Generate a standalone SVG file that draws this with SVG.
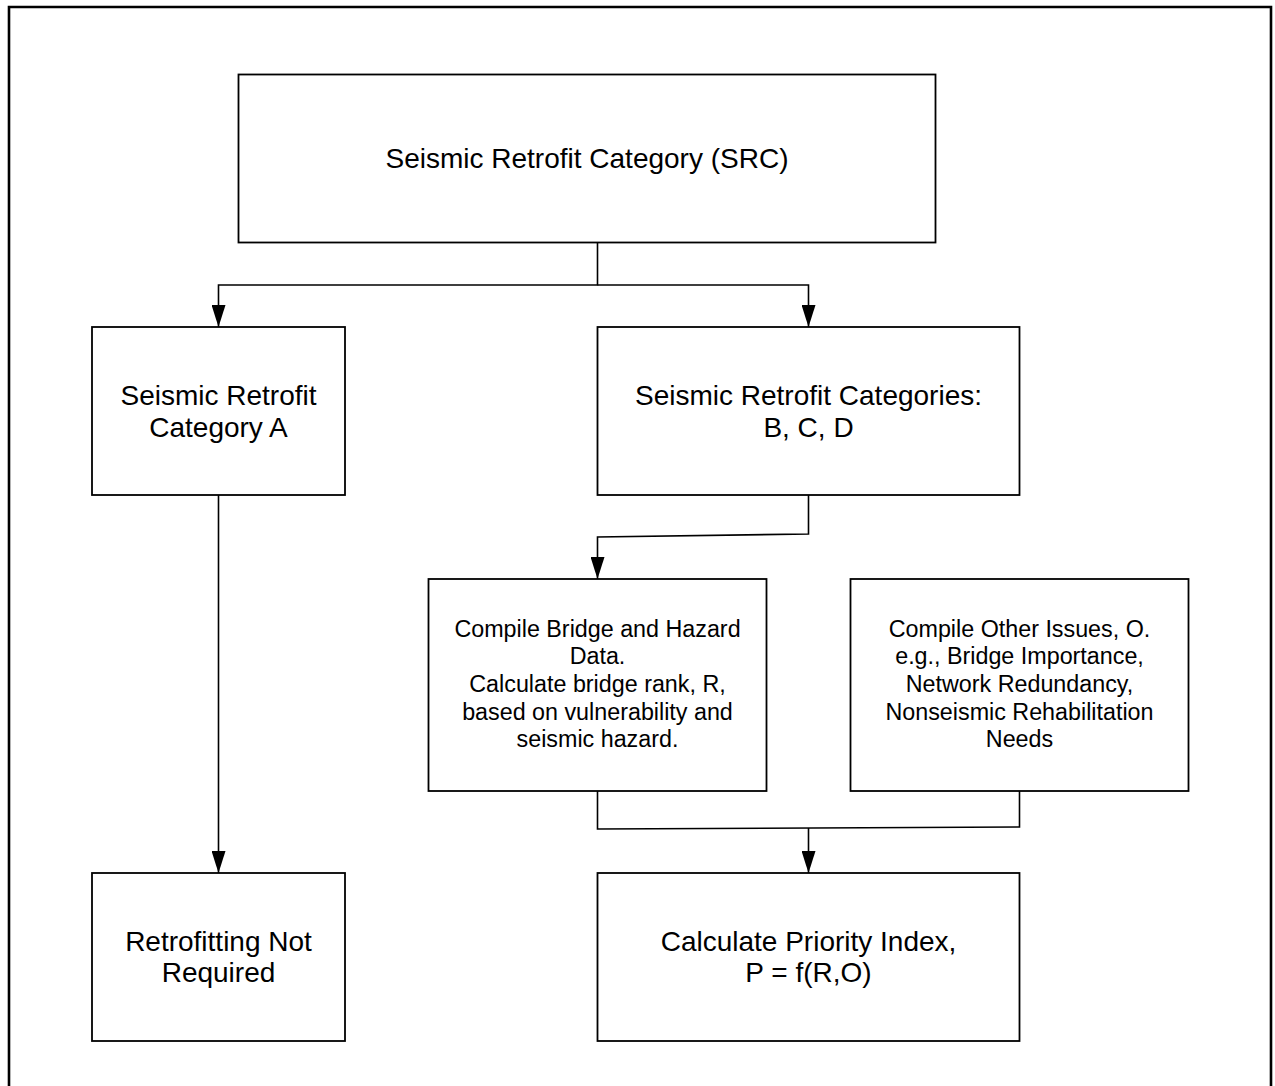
<svg xmlns="http://www.w3.org/2000/svg" width="1275" height="1086" viewBox="0 0 1275 1086">
  <style>
    .box { fill: #ffffff; stroke: #000000; stroke-width: 1.8; }
    .lbl { font-family: "Liberation Sans", Arial, sans-serif; font-size: 28px; fill: #000000; text-anchor: middle; }
    .sm { font-size: 23.3px; }
    .wire { fill: none; stroke: #000000; stroke-width: 1.6; }
  </style>
  <defs>
    <!-- filled arrowhead pointing along the path direction -->
    <marker id="arrow" markerUnits="userSpaceOnUse" markerWidth="22" markerHeight="14" refX="22" refY="7" orient="auto" viewBox="0 0 22 14">
      <path d="M0,0 L22,7 L0,14 Z" fill="#000000"/>
    </marker>
  </defs>
  <rect width="1275" height="1086" fill="#ffffff"/>
  <!-- page frame -->
  <path d="M9,1090 L9,7 L1271,7 L1271,1090" fill="none" stroke="#000000" stroke-width="2.6"/>

  <g id="connectors">
    <path class="wire" d="M597.5,242 L597.5,285 L218.5,285 L218.5,327" marker-end="url(#arrow)"/>
    <path class="wire" d="M597.5,285 L808.5,285 L808.5,327" marker-end="url(#arrow)"/>
    <path class="wire" d="M808.5,495 L808.5,534 L597.5,537 L597.5,579" marker-end="url(#arrow)"/>
    <path class="wire" d="M218.5,495 L218.5,873" marker-end="url(#arrow)"/>
    <path class="wire" d="M597.5,791 L597.5,829 L1019.5,827 L1019.5,791"/>
    <path class="wire" d="M808.5,828 L808.5,873" marker-end="url(#arrow)"/>
  </g>

  <g id="src">
    <rect class="box" x="238.5" y="74.5" width="697" height="168"/>
    <text class="lbl" x="587" y="168">Seismic Retrofit Category (SRC)</text>
  </g>
  <g id="cat-a">
    <rect class="box" x="92" y="327" width="253" height="168"/>
    <text class="lbl" x="218.5" y="405">Seismic Retrofit</text>
    <text class="lbl" x="218.5" y="437">Category A</text>
  </g>
  <g id="cat-bcd">
    <rect class="box" x="597.5" y="327" width="422" height="168"/>
    <text class="lbl" x="808.5" y="405">Seismic Retrofit Categories:</text>
    <text class="lbl" x="808.5" y="437">B, C, D</text>
  </g>
  <g id="bridge-data">
    <rect class="box" x="428.5" y="579" width="338" height="212"/>
    <text class="lbl sm" x="597.5" y="637">Compile Bridge and Hazard</text>
    <text class="lbl sm" x="597.5" y="664">Data.</text>
    <text class="lbl sm" x="597.5" y="692">Calculate bridge rank, R,</text>
    <text class="lbl sm" x="597.5" y="720">based on vulnerability and</text>
    <text class="lbl sm" x="597.5" y="747">seismic hazard.</text>
  </g>
  <g id="other-issues">
    <rect class="box" x="850.5" y="579" width="338" height="212"/>
    <text class="lbl sm" x="1019.5" y="637">Compile Other Issues, O.</text>
    <text class="lbl sm" x="1019.5" y="664">e.g., Bridge Importance,</text>
    <text class="lbl sm" x="1019.5" y="692">Network Redundancy,</text>
    <text class="lbl sm" x="1019.5" y="720">Nonseismic Rehabilitation</text>
    <text class="lbl sm" x="1019.5" y="747">Needs</text>
  </g>
  <g id="not-required">
    <rect class="box" x="92" y="873" width="253" height="168"/>
    <text class="lbl" x="218.5" y="951">Retrofitting Not</text>
    <text class="lbl" x="218.5" y="982">Required</text>
  </g>
  <g id="priority">
    <rect class="box" x="597.5" y="873" width="422" height="168"/>
    <text class="lbl" x="808.5" y="951">Calculate Priority Index,</text>
    <text class="lbl" x="808.5" y="982">P = f(R,O)</text>
  </g>
</svg>
